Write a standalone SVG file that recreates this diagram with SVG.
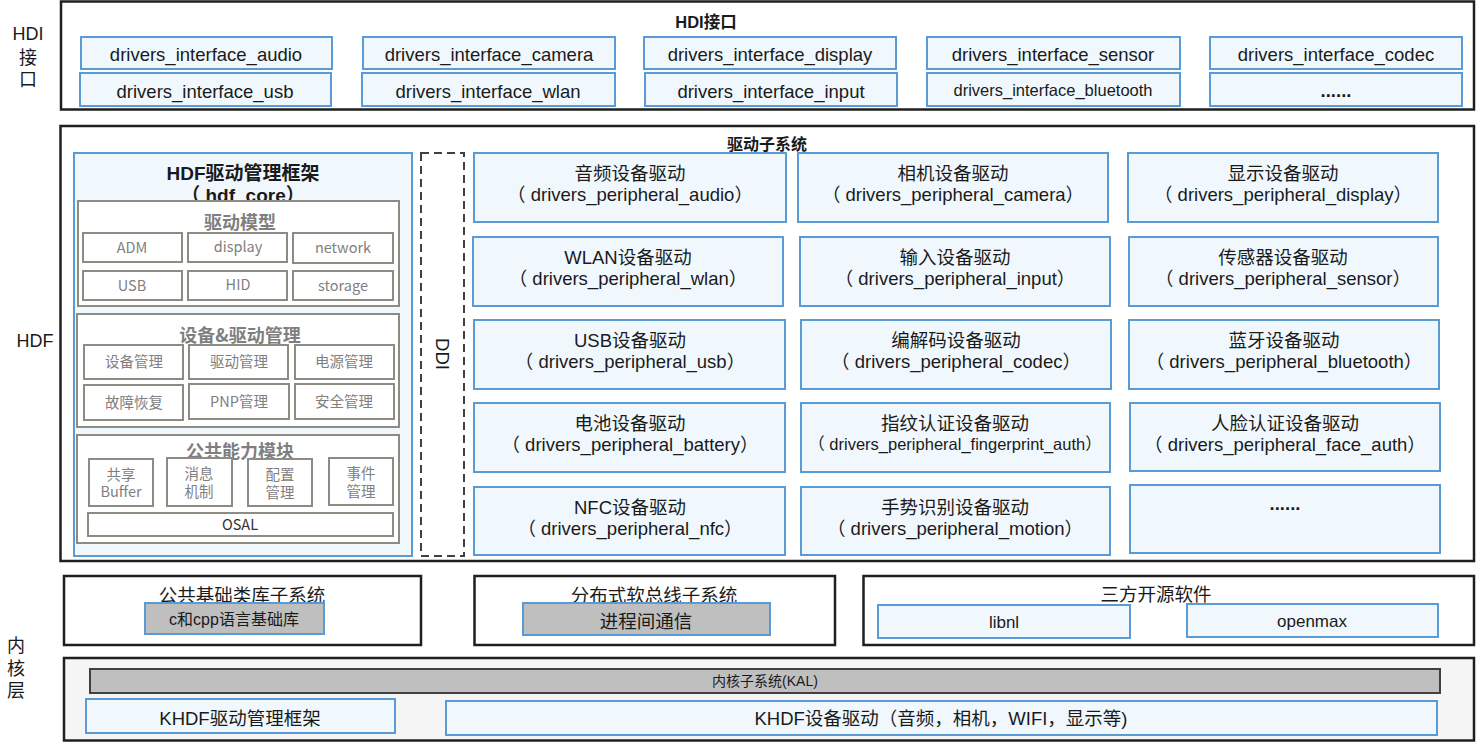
<svg xmlns="http://www.w3.org/2000/svg" width="1477" height="742" viewBox="0 0 1477 742">
<style>
  text { font-family: "Liberation Sans", "Noto Sans CJK SC", sans-serif; fill: #1a1a1a; text-anchor: middle; }
  .outer { fill: #ffffff; stroke: #1f1f1f; stroke-width: 2.5; }
  .kern { fill: #f5f5f5; stroke: #1f1f1f; stroke-width: 2.5; }
  .blue { fill: #f0f8fe; stroke: #5b9bd5; stroke-width: 2; }
  .bluegray { fill: #bfbfbf; stroke: #5b9bd5; stroke-width: 2; }
  .kal { fill: #bfbfbf; stroke: #404040; stroke-width: 2; }
  .grp { fill: #ffffff; stroke: #8c8c82; stroke-width: 2; }
  .cell { fill: #ffffff; stroke: #8c8c82; stroke-width: 2; }
  .dash { fill: #ffffff; stroke: #404040; stroke-width: 2; stroke-dasharray: 8 5; }
  .side { font-size: 18px; text-anchor: middle; }
  .t17 { font-size: 18.5px; }
  .t15 { font-size: 16.5px; }
  .bold { font-weight: bold; }
  .gtitle { font-family: "Noto Sans CJK SC", sans-serif; font-size: 18px; font-weight: bold; fill: #7f7f7f; }
  .gcell { font-family: "Noto Sans CJK SC", sans-serif; font-size: 14.5px; fill: #7f7f7f; }
  .osal { font-family: "Noto Sans CJK SC", sans-serif; font-size: 14.5px; fill: #333333; }
</style>

<!-- side labels -->
<g id="side-labels">
  <text class="side" x="28" y="40">HDI</text>
  <text class="side" x="28" y="64">接</text>
  <text class="side" x="28" y="86">口</text>
  <text class="side" x="35" y="347">HDF</text>
  <text class="side" x="16" y="652">内</text>
  <text class="side" x="16" y="675">核</text>
  <text class="side" x="16" y="697">层</text>
</g>

<!-- HDI interface layer -->
<g id="hdi">
  <rect class="outer" x="61" y="1.5" width="1413" height="108"/>
  <text class="bold" x="706" y="28" font-size="16.5">HDI接口</text>
</g>
<g id="if-audio"><rect class="blue" x="81" y="37" width="251" height="32"/><text class="t17" x="206" y="61">drivers_interface_audio</text></g>
<g id="if-camera"><rect class="blue" x="363" y="37" width="252" height="32"/><text class="t17" x="489" y="61">drivers_interface_camera</text></g>
<g id="if-display"><rect class="blue" x="644" y="37" width="252" height="32"/><text class="t17" x="770" y="61">drivers_interface_display</text></g>
<g id="if-sensor"><rect class="blue" x="927" y="37" width="253" height="32"/><text class="t17" x="1053" y="61">drivers_interface_sensor</text></g>
<g id="if-codec"><rect class="blue" x="1210" y="37" width="252" height="32"/><text class="t17" x="1336" y="61">drivers_interface_codec</text></g>
<g id="if-usb"><rect class="blue" x="80" y="73" width="251" height="33"/><text class="t17" x="205" y="98">drivers_interface_usb</text></g>
<g id="if-wlan"><rect class="blue" x="362" y="73" width="253" height="33"/><text class="t17" x="488" y="98">drivers_interface_wlan</text></g>
<g id="if-input"><rect class="blue" x="645" y="73" width="252" height="33"/><text class="t17" x="771" y="98">drivers_interface_input</text></g>
<g id="if-bluetooth"><rect class="blue" x="927" y="73" width="253" height="33"/><text class="t15" x="1053" y="96">drivers_interface_bluetooth</text></g>
<g id="if-more"><rect class="blue" x="1210" y="73" width="252" height="33"/><text class="t17 bold" x="1336" y="97">......</text></g>

<!-- HDF driver subsystem -->
<g id="hdf">
  <rect class="outer" x="60.5" y="126" width="1413.5" height="435"/>
  <text class="bold" x="767" y="150" font-size="16">驱动子系统</text>
</g>

<g id="hdf-core">
  <rect class="blue" x="74" y="153" width="338" height="403"/>
  <text class="bold" x="243" y="180" font-size="19">HDF驱动管理框架</text>
  <text class="bold" x="243" y="202" font-size="19">（ hdf_core）</text>
</g>

<g id="driver-model">
  <rect class="grp" x="78" y="201" width="321" height="105"/>
  <text class="gtitle" x="240" y="229">驱动模型</text>
  <rect class="cell" x="83" y="233" width="99" height="29"/><text class="gcell" x="132" y="253">ADM</text>
  <rect class="cell" x="188" y="233" width="99" height="29"/><text class="gcell" x="238" y="252">display</text>
  <rect class="cell" x="293" y="233" width="100" height="30"/><text class="gcell" x="343" y="253">network</text>
  <rect class="cell" x="83" y="271" width="99" height="29"/><text class="gcell" x="132" y="291">USB</text>
  <rect class="cell" x="188" y="271" width="99" height="29"/><text class="gcell" x="238" y="290">HID</text>
  <rect class="cell" x="293" y="271" width="100" height="29"/><text class="gcell" x="343" y="291">storage</text>
</g>

<g id="device-driver-mgmt">
  <rect class="grp" x="77" y="314" width="322" height="113"/>
  <text class="gtitle" x="240" y="342">设备&amp;驱动管理</text>
  <rect class="cell" x="84" y="345" width="99" height="34"/><text class="gcell" x="134" y="367">设备管理</text>
  <rect class="cell" x="189" y="345" width="99" height="34"/><text class="gcell" x="239" y="367">驱动管理</text>
  <rect class="cell" x="295" y="345" width="99" height="34"/><text class="gcell" x="344" y="367">电源管理</text>
  <rect class="cell" x="84" y="385" width="99" height="35"/><text class="gcell" x="134" y="408">故障恢复</text>
  <rect class="cell" x="189" y="384" width="100" height="35"/><text class="gcell" x="239" y="407">PNP管理</text>
  <rect class="cell" x="295" y="384" width="99" height="35"/><text class="gcell" x="344" y="407">安全管理</text>
</g>

<g id="common-abilities">
  <rect class="grp" x="77" y="435" width="322" height="108"/>
  <text class="gtitle" x="240" y="458">公共能力模块</text>
  <rect class="cell" x="89" y="459" width="64" height="47"/>
  <text class="gcell" x="121" y="480">共享<tspan x="121" dy="17">Buffer</tspan></text>
  <rect class="cell" x="167" y="458" width="65" height="48"/>
  <text class="gcell" x="199" y="479">消息<tspan x="199" dy="18">机制</tspan></text>
  <rect class="cell" x="248" y="459" width="64" height="47"/>
  <text class="gcell" x="280" y="480">配置<tspan x="280" dy="18">管理</tspan></text>
  <rect class="cell" x="329" y="458" width="64" height="47"/>
  <text class="gcell" x="361" y="479">事件<tspan x="361" dy="18">管理</tspan></text>
  <rect class="cell" x="88" y="513" width="305" height="23"/>
  <text class="osal" x="240" y="530">OSAL</text>
</g>

<g id="ddi">
  <rect class="dash" x="421" y="153" width="43" height="403"/>
  <text class="t17" x="0" y="0" transform="translate(436 354) rotate(90)">DDI</text>
</g>

<!-- peripheral drivers -->
<g id="drv-audio"><rect class="blue" x="474" y="153" width="312" height="69"/><text class="t17" x="630" y="180">音频设备驱动</text><text class="t17" x="630" y="201">（ drivers_peripheral_audio）</text></g>
<g id="drv-camera"><rect class="blue" x="798" y="153" width="310" height="69"/><text class="t17" x="953" y="180">相机设备驱动</text><text class="t17" x="953" y="201">（ drivers_peripheral_camera）</text></g>
<g id="drv-display"><rect class="blue" x="1128" y="153" width="310" height="69"/><text class="t17" x="1283" y="180">显示设备驱动</text><text class="t17" x="1283" y="201">（ drivers_peripheral_display）</text></g>

<g id="drv-wlan"><rect class="blue" x="473" y="237" width="310" height="69"/><text class="t17" x="628" y="264">WLAN设备驱动</text><text class="t17" x="628" y="285">（ drivers_peripheral_wlan）</text></g>
<g id="drv-input"><rect class="blue" x="800" y="237" width="310" height="69"/><text class="t17" x="955" y="264">输入设备驱动</text><text class="t17" x="955" y="285">（ drivers_peripheral_input）</text></g>
<g id="drv-sensor"><rect class="blue" x="1129" y="237" width="309" height="69"/><text class="t17" x="1283" y="264">传感器设备驱动</text><text class="t17" x="1283" y="285">（ drivers_peripheral_sensor）</text></g>

<g id="drv-usb"><rect class="blue" x="474" y="320" width="311" height="69"/><text class="t17" x="630" y="347">USB设备驱动</text><text class="t17" x="630" y="368">（ drivers_peripheral_usb）</text></g>
<g id="drv-codec"><rect class="blue" x="801" y="320" width="310" height="69"/><text class="t17" x="956" y="347">编解码设备驱动</text><text class="t17" x="956" y="368">（ drivers_peripheral_codec）</text></g>
<g id="drv-bluetooth"><rect class="blue" x="1129" y="320" width="310" height="69"/><text class="t17" x="1284" y="347">蓝牙设备驱动</text><text class="t17" x="1284" y="368">（ drivers_peripheral_bluetooth）</text></g>

<g id="drv-battery"><rect class="blue" x="474" y="403" width="311" height="69"/><text class="t17" x="630" y="430">电池设备驱动</text><text class="t17" x="630" y="451">（ drivers_peripheral_battery）</text></g>
<g id="drv-fingerprint"><rect class="blue" x="801" y="403" width="309" height="69"/><text class="t17" x="955" y="430">指纹认证设备驱动</text><text class="t15" x="955" y="450">（ drivers_peripheral_fingerprint_auth）</text></g>
<g id="drv-face"><rect class="blue" x="1130" y="403" width="310" height="68"/><text class="t17" x="1285" y="430">人脸认证设备驱动</text><text class="t17" x="1285" y="451">（ drivers_peripheral_face_auth）</text></g>

<g id="drv-nfc"><rect class="blue" x="474" y="487" width="311" height="68"/><text class="t17" x="630" y="514">NFC设备驱动</text><text class="t17" x="630" y="535">（ drivers_peripheral_nfc）</text></g>
<g id="drv-motion"><rect class="blue" x="801" y="487" width="309" height="68"/><text class="t17" x="955" y="514">手势识别设备驱动</text><text class="t17" x="955" y="535">（ drivers_peripheral_motion）</text></g>
<g id="drv-more"><rect class="blue" x="1130" y="485" width="310" height="68"/><text class="t17 bold" x="1285" y="510">......</text></g>

<!-- subsystems row -->
<g id="utils">
  <rect class="outer" x="64" y="576" width="357" height="69"/>
  <text class="t17" x="242" y="602">公共基础类库子系统</text>
  <rect class="bluegray" x="145" y="603" width="179" height="31"/>
  <text x="234" y="625" font-size="16">c和cpp语言基础库</text>
</g>
<g id="softbus">
  <rect class="outer" x="474.5" y="576" width="360.5" height="69"/>
  <text class="t17" x="654" y="602">分布式软总线子系统</text>
  <rect class="bluegray" x="523" y="603" width="247" height="32"/>
  <text class="t17" x="646" y="628">进程间通信</text>
</g>
<g id="thirdparty">
  <rect class="outer" x="863.5" y="576" width="610.5" height="69"/>
  <text class="t17" x="1156" y="601">三方开源软件</text>
</g>
<g id="libnl"><rect class="blue" x="878" y="605" width="252" height="33"/><text x="1004" y="628" font-size="17">libnl</text></g>
<g id="openmax"><rect class="blue" x="1187" y="604" width="251" height="33"/><text x="1312" y="627" font-size="17">openmax</text></g>

<!-- kernel layer -->
<g id="kernel">
  <rect class="kern" x="64" y="658" width="1410" height="82.5"/>
</g>
<g id="kal">
  <rect class="kal" x="90" y="669" width="1350" height="24"/>
  <text x="765" y="686" font-size="14" fill="#333333">内核子系统(KAL)</text>
</g>
<g id="khdf-framework">
  <rect class="blue" x="86" y="699" width="309" height="34"/>
  <text class="t17" x="240" y="725">KHDF驱动管理框架</text>
</g>
<g id="khdf-drivers">
  <rect class="blue" x="446" y="701" width="991" height="34"/>
  <text class="t17" x="941" y="725">KHDF设备驱动（音频，相机，WIFI，显示等)</text>
</g>

<g id="connectors"></g>
</svg>
